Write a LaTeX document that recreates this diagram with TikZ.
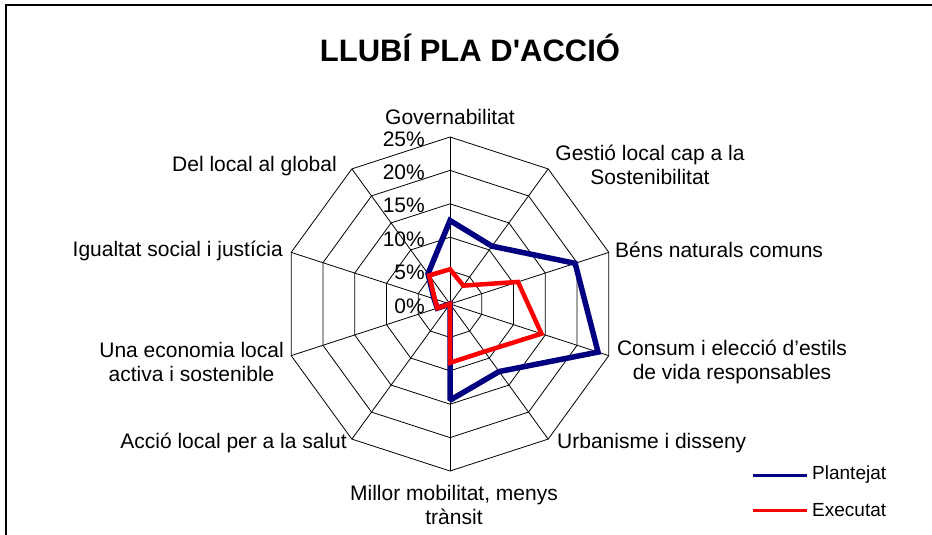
\documentclass[tikz,border=0pt]{standalone}
\usepackage{fontspec}
\setmainfont{Liberation Sans}
\newfontfamily\titlefont{Liberation Sans}
\definecolor{plantcol}{RGB}{0,0,128}
\definecolor{execcol}{RGB}{255,0,0}
\tikzset{
  gridline/.style={black, line width=0.8pt},
  lbl/.style={inner sep=0pt, font=\fontsize{21}{24}\selectfont},
  pct/.style={inner sep=0pt, anchor=east, font=\fontsize{21}{24}\selectfont},
  leg/.style={inner sep=0pt, anchor=west, font=\fontsize{19}{22}\selectfont},
  plantline/.style={plantcol, line width=5.5pt, line join=miter, miter limit=2},
  execline/.style={execcol, line width=4.5pt, line join=miter, miter limit=2},
}
\begin{document}
\begin{tikzpicture}[x=1pt,y=1pt]
\useasboundingbox (0,0) rectangle (932,-535);
\fill[white] (0,0) rectangle (932,-535);
\draw[line width=2pt] (6,-535) -- (6,-5) -- (932,-5);

\node[font=\titlefont\fontsize{31}{36}\selectfont\bfseries, inner sep=0pt] (title) at (470,-48) {LLUBÍ PLA D'ACCIÓ};

\begin{scope}[shift={(450,-304)}]
  \coordinate (c) at (0,0);
  % rings
  \foreach \r in {1,...,5}{
    \draw[gridline] (90:\r*33.4) \foreach \a in {126,162,...,414}{ -- (\a:\r*33.4) } -- cycle;
  }
  % spokes
  \foreach \a [count=\i] in {90,54,18,-18,-54,-90,-126,-162,162,126}{
    \coordinate (ax\i) at (\a:167);
    \draw[gridline] (c) -- (ax\i);
  }
  % series Plantejat
  \draw[plantline] (90:12.5*6.68) -- (54:10.7*6.68) -- (18:19.7*6.68) -- (-18:23.3*6.68)
     -- (-54:12.5*6.68) -- (-90:14.4*6.68) -- (c) -- (-162:2.0*6.68)
     -- (162:2.5*6.68) -- (126:5.6*6.68) -- cycle;
  % series Executat
  \draw[execline] (90:5.2*6.68) -- (54:3.4*6.68) -- (18:10.7*6.68) -- (-18:14.4*6.68)
     -- (-54:8.8*6.68) -- (-90:8.8*6.68) -- (c) -- (-162:2.0*6.68)
     -- (162:2.4*6.68) -- (126:5.3*6.68) -- cycle;
\end{scope}

% percent labels
\node[pct] (p0) at (425,-306) {0\%};
\node[pct] (p5) at (425,-272.6) {5\%};
\node[pct] (p10) at (425,-239.2) {10\%};
\node[pct] (p15) at (425,-205.8) {15\%};
\node[pct] (p20) at (425,-172.4) {20\%};
\node[pct] (p25) at (425,-139) {25\%};

% category labels
\node[lbl] (l1) at (450,-117) {Governabilitat};
\node[lbl, align=center] (l2) at (650,-165) {Gestió local cap a la\\Sostenibilitat};
\node[lbl, anchor=west] (l3) at (615,-250) {Béns naturals comuns};
\node[lbl, align=center] (l4) at (732,-362) {Consum i elecció d’estils\\de vida responsables};
\node[lbl, anchor=west] (l5) at (557,-443) {Urbanisme i disseny};
\node[lbl, align=center] (l6) at (454,-505) {Millor mobilitat, menys\\trànsit};
\node[lbl, anchor=east] (l7) at (347,-443) {Acció local per a la salut};
\node[lbl, align=center, anchor=east] (l8) at (284,-362) {Una economia local\\activa i sostenible};
\node[lbl, anchor=east] (l9) at (283,-251) {Igualtat social i justícia};
\node[lbl, anchor=east] (l10) at (337,-166) {Del local al global};

% legend
\coordinate (lb1) at (753,-475);
\coordinate (lb2) at (807,-475);
\draw[plantcol, line width=3pt] (lb1) -- (lb2);
\node[leg] (legp) at (812,-475) {Plantejat};
\coordinate (lr1) at (753,-510);
\coordinate (lr2) at (807,-510);
\draw[execcol, line width=3pt] (lr1) -- (lr2);
\node[leg] (lege) at (812,-510) {Executat};
\end{tikzpicture}
\end{document}
